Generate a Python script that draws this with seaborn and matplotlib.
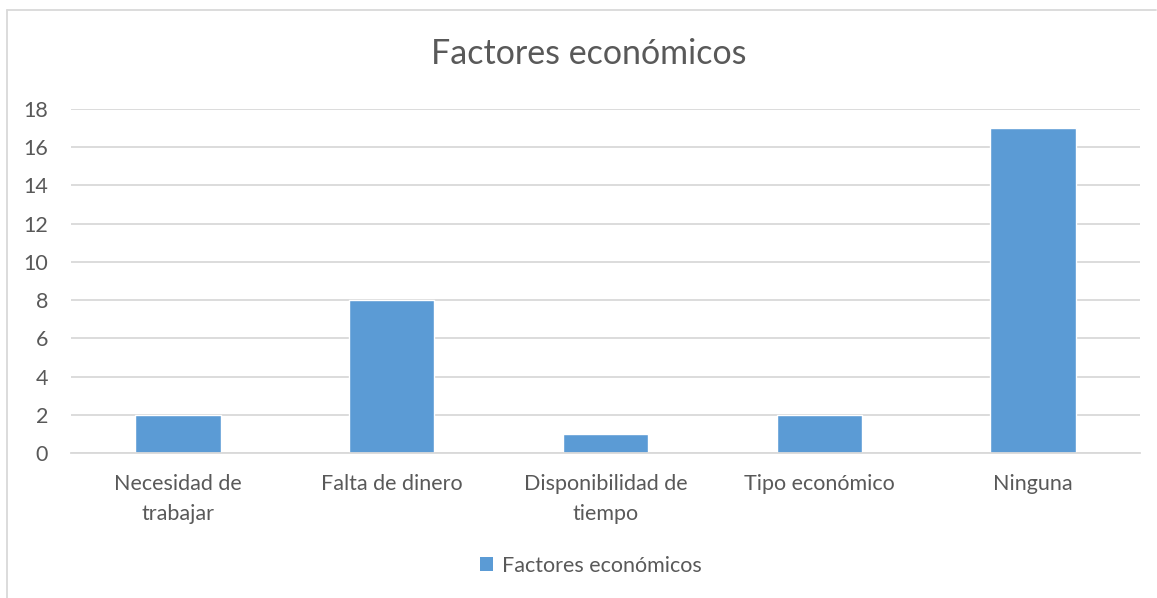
import matplotlib
matplotlib.use("Agg")
import matplotlib.pyplot as plt
import seaborn as sns
import pandas as pd
from matplotlib.patches import Rectangle

categories = ["Necesidad de\ntrabajar", "Falta de dinero", "Disponibilidad de\ntiempo",
              "Tipo económico", "Ninguna"]
values = [2, 8, 1, 2, 17]
series_name = "Factores económicos"
yticks = [0, 2, 4, 6, 8, 10, 12, 14, 16, 18]

sns.set_theme(style="white")
plt.rcParams['font.family'] = ['Lato', 'DejaVu Sans']

text_color = "#595959"
bar_color = "#5B9BD5"
grid_color = "#D9D9D9"

df = pd.DataFrame({"cat": categories, "val": values, "serie": series_name})

fig = plt.figure(figsize=(11.57, 5.98), dpi=100)
ax = fig.add_axes([71/1157, 1-453/598, (1140-71)/1157, (453-109)/598])

sns.barplot(data=df, x="cat", y="val", hue="serie", palette=[bar_color],
            width=0.4, ax=ax, legend=False, saturation=1)

ax.set_ylim(0, 18)
ax.set_xlim(-0.5, len(categories)-0.5)
ax.set_yticks(yticks)
ax.set_yticklabels([str(t) for t in yticks])
ax.yaxis.grid(True, color=grid_color, linewidth=1.3)
ax.set_axisbelow(True)
for s in ["top", "right", "left"]:
    ax.spines[s].set_visible(False)
ax.spines["bottom"].set_color(grid_color)
ax.spines["bottom"].set_linewidth(1.3)
ax.tick_params(axis="both", length=0, colors=text_color, labelsize=15.5)
ax.tick_params(axis="y", pad=16.5)
ax.tick_params(axis="x", pad=15)
for lbl in ax.get_xticklabels():
    lbl.set_linespacing(1.65)
ax.set_xlabel("")
ax.set_ylabel("")

fig.text(589/1157, 1-54/598, "Factores económicos", ha="center", va="center",
         fontsize=24.5, color=text_color)

handle = Rectangle((0, 0), 1, 1, facecolor=bar_color, edgecolor="none")
fig.legend([handle], [series_name], loc="center", bbox_to_anchor=(591/1157, 1-566/598),
           frameon=False, fontsize=15.5, labelcolor=text_color, handlelength=0.62,
           handleheight=0.62, handletextpad=0.4)

# outer chart border (top and left visible)
fig.add_artist(plt.Line2D([7/1157, 7/1157], [0, 1-10/598], transform=fig.transFigure,
                          color=grid_color, linewidth=1.3))
fig.add_artist(plt.Line2D([7/1157, 1156/1157], [1-10/598, 1-10/598], transform=fig.transFigure,
                          color=grid_color, linewidth=1.3))

fig.savefig("out.png", dpi=100, facecolor="white")
